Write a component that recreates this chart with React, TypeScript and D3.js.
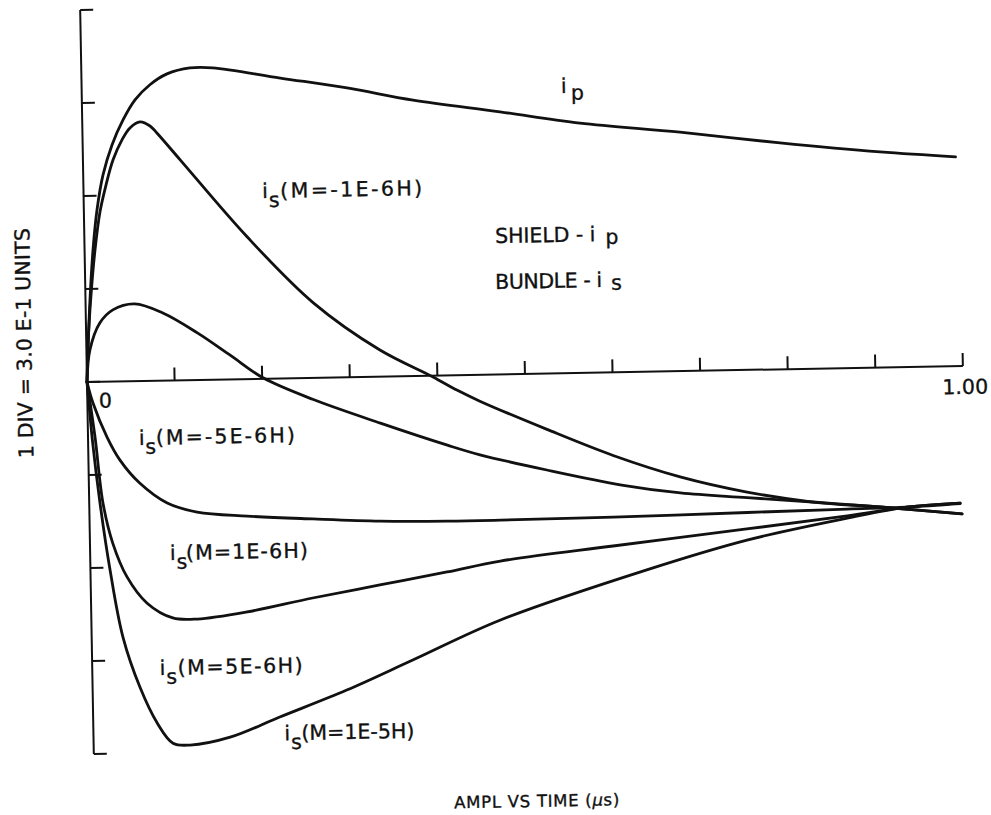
import React from "react";
import * as d3 from "d3";

// Time axis (µs) and amplitude axis (units, 1 div = 0.3)
const timeTicks = [0, 0.1, 0.2, 0.3, 0.4, 0.5, 0.6, 0.7, 0.8, 0.9, 1.0];
const ampTicks = [-1.2, -0.9, -0.6, -0.3, 0, 0.3, 0.6, 0.9, 1.2];

type Pt = [number, number];

// Shield current i_p
const ipShield: Pt[] = [
  [0, 0], [0.0018, 0.103], [0.0051, 0.264], [0.0096, 0.425], [0.015, 0.554],
  [0.0226, 0.667], [0.0335, 0.763], [0.0466, 0.843], [0.0607, 0.907], [0.078, 0.955],
  [0.0977, 0.989], [0.124, 1.007], [0.15, 1.006], [0.227, 0.969], [0.303, 0.933],
  [0.378, 0.89], [0.477, 0.847], [0.568, 0.806], [0.682, 0.771], [0.796, 0.73],
  [0.91, 0.695], [0.996, 0.675],
];

// Bundle current i_s, M = -1E-6 H
const isMinus1E6: Pt[] = [
  [0, 0], [0.0019, 0.119], [0.0064, 0.28], [0.0119, 0.425], [0.0184, 0.548],
  [0.0258, 0.634], [0.0344, 0.715], [0.045, 0.779], [0.0543, 0.817], [0.066, 0.836],
  [0.0773, 0.822], [0.085, 0.799], [0.111, 0.711], [0.186, 0.458], [0.26, 0.242],
  [0.335, 0.086], [0.395, -0.004], [0.422, -0.048], [0.448, -0.085], [0.524, -0.18],
  [0.599, -0.268], [0.675, -0.341], [0.751, -0.394], [0.826, -0.43], [0.903, -0.45],
  [0.996, -0.477],
];

// Bundle current i_s, M = -5E-6 H
const isMinus5E6: Pt[] = [
  [0, 0], [0.004, 0.103], [0.016, 0.19], [0.031, 0.231], [0.056, 0.249],
  [0.088, 0.218], [0.127, 0.152], [0.164, 0.078], [0.201, 0.003], [0.258, -0.07],
  [0.334, -0.15], [0.41, -0.225], [0.447, -0.258], [0.523, -0.311], [0.61, -0.365],
  [0.675, -0.393], [0.751, -0.412], [0.826, -0.43], [0.903, -0.45], [0.996, -0.477],
];

// Bundle current i_s, M = 1E-6 H
const isPlus1E6: Pt[] = [
  [0, 0], [0.0064, -0.068], [0.0217, -0.179], [0.036, -0.254], [0.058, -0.329],
  [0.089, -0.395], [0.123, -0.426], [0.18, -0.442], [0.255, -0.455], [0.332, -0.466],
  [0.408, -0.47], [0.469, -0.47], [0.598, -0.467], [0.751, -0.46], [0.865, -0.455],
  [0.933, -0.452], [0.994, -0.444],
];

// Bundle current i_s, M = 5E-6 H
const isPlus5E6: Pt[] = [
  [0, 0], [0.008, -0.178], [0.0157, -0.391], [0.026, -0.521], [0.0416, -0.631],
  [0.064, -0.717], [0.093, -0.766], [0.121, -0.771], [0.178, -0.751], [0.253, -0.71],
  [0.33, -0.672], [0.407, -0.634], [0.468, -0.602], [0.597, -0.56], [0.75, -0.513],
  [0.865, -0.477], [0.933, -0.452], [0.994, -0.442],
];

// Bundle current i_s, M = 1E-5 H
const isPlus1E5: Pt[] = [
  [0, 0], [0.005, -0.19], [0.0123, -0.391], [0.0224, -0.608], [0.0357, -0.825],
  [0.054, -0.987], [0.073, -1.104], [0.0906, -1.17], [0.11, -1.177], [0.156, -1.154],
  [0.213, -1.092], [0.29, -1.009], [0.366, -0.916], [0.467, -0.792], [0.635, -0.639],
  [0.75, -0.549], [0.865, -0.484], [0.933, -0.452], [0.994, -0.442],
];

const allCurves = [ipShield, isMinus1E6, isMinus5E6, isPlus1E6, isPlus5E6, isPlus1E5];

// Curve labels "i_s(M=...)", anchored in (time, amplitude)
const curveLabelText = ["(M=-1E-6H)", "(M=-5E-6H)", "(M=1E-6H)", "(M=5E-6H)", "(M=1E-5H)"];
const curveLabelTime = [0.204, 0.058, 0.091, 0.077, 0.218];
const curveLabelAmp = [0.583, -0.206, -0.579, -0.949, -1.167];

const W = 991;
const H = 815;
const INK = "#111";
const FONT = "'DejaVu Sans', 'Liberation Sans', sans-serif";

export default function App() {
  const x = d3.scaleLinear().domain([0, 1]).range([87, 963]);
  const y = d3.scaleLinear().domain([-1.2, 1.2]).range([754, 10]);
  const line = d3
    .line<Pt>()
    .x((d) => x(d[0]))
    .y((d) => y(d[1]))
    .curve(d3.curveCatmullRom.alpha(0.5));

  const x0 = x(0);
  const y0 = y(0);
  const tilt = -1.05;
  const fs = 20.5;
  const labelWidths = [142, 139, 122, 125, 113];
  const labelGaps = [18, 17, 16, 18, 17];

  const textStyle = { stroke: INK, strokeWidth: 0.35 };

  return (
    <svg
      width={W}
      height={H}
      viewBox={`0 0 ${W} ${H}`}
      style={{ position: "absolute", left: 0, top: 0, background: "#fff" }}
      fontFamily={FONT}
      fontSize={fs}
      fill={INK}
    >
      <rect x={0} y={0} width={W} height={H} fill="#fff" />
      <g transform={`rotate(${tilt} ${x0} ${y0})`}>
        {/* amplitude axis */}
        <line x1={x0} x2={x0} y1={y(1.2)} y2={y(-1.2)} stroke={INK} strokeWidth={2} />
        {ampTicks.map((v) => (
          <line key={`yt${v}`} x1={x0} x2={x0 + 13} y1={y(v)} y2={y(v)} stroke={INK} strokeWidth={2} />
        ))}
        {/* time axis */}
        <line x1={x0} x2={x(1)} y1={y0} y2={y0} stroke={INK} strokeWidth={2} />
        {timeTicks.slice(1).map((t) => (
          <line key={`xt${t}`} x1={x(t)} x2={x(t)} y1={y0} y2={y0 - 13} stroke={INK} strokeWidth={2} />
        ))}

        <g style={textStyle}>
          <text x={x0 + 18} y={y0 + 26} textAnchor="middle">0</text>
          <text x={x(1) + 2} y={y0 + 28} textAnchor="middle">1.00</text>
        </g>

        {/* curves */}
        {allCurves.map((c, i) => (
          <path key={`c${i}`} d={line(c) ?? ""} fill="none" stroke={INK} strokeWidth={2.8} strokeLinejoin="round" strokeLinecap="round" />
        ))}

        <g style={textStyle}>
          {/* i_p label */}
          <text x={x(0.547)} y={y(0.904)}>i</text>
          <text x={x(0.547) + 10} y={y(0.904) + 7}>p</text>

          {/* legend notes */}
          <text x={x(0.469)} y={y(0.424)} textLength={100} lengthAdjust="spacing">SHIELD - i</text>
          <text x={x(0.469) + 110} y={y(0.424) + 3}>p</text>
          <text x={x(0.468)} y={y(0.276)} textLength={107} lengthAdjust="spacing">BUNDLE - i</text>
          <text x={x(0.468) + 116} y={y(0.276) + 3}>s</text>

          {/* i_s labels */}
          {curveLabelText.map((s, i) => {
            const lx = x(curveLabelTime[i]);
            const ly = y(curveLabelAmp[i]);
            return (
              <g key={`lab${i}`}>
                <text x={lx} y={ly}>i</text>
                <text x={lx + 6.5} y={ly + 9}>s</text>
                <text x={lx + labelGaps[i]} y={ly} textLength={labelWidths[i]} lengthAdjust="spacing">{s}</text>
              </g>
            );
          })}

          {/* axis titles */}
          <text
            transform={`translate(${x0 - 55}, ${y0 - 40}) rotate(-90)`}
            textAnchor="middle"
            textLength={230}
            lengthAdjust="spacing"
          >
            1 DIV = 3.0 E-1 UNITS
          </text>
          <text
            x={x0 + 442}
            y={y0 + 433}
            textAnchor="middle"
            fontSize={16.5}
            textLength={165}
            lengthAdjust="spacing"
          >
            AMPL  VS  TIME (<tspan fontStyle="italic">µ</tspan>s)
          </text>
        </g>
      </g>
    </svg>
  );
}
